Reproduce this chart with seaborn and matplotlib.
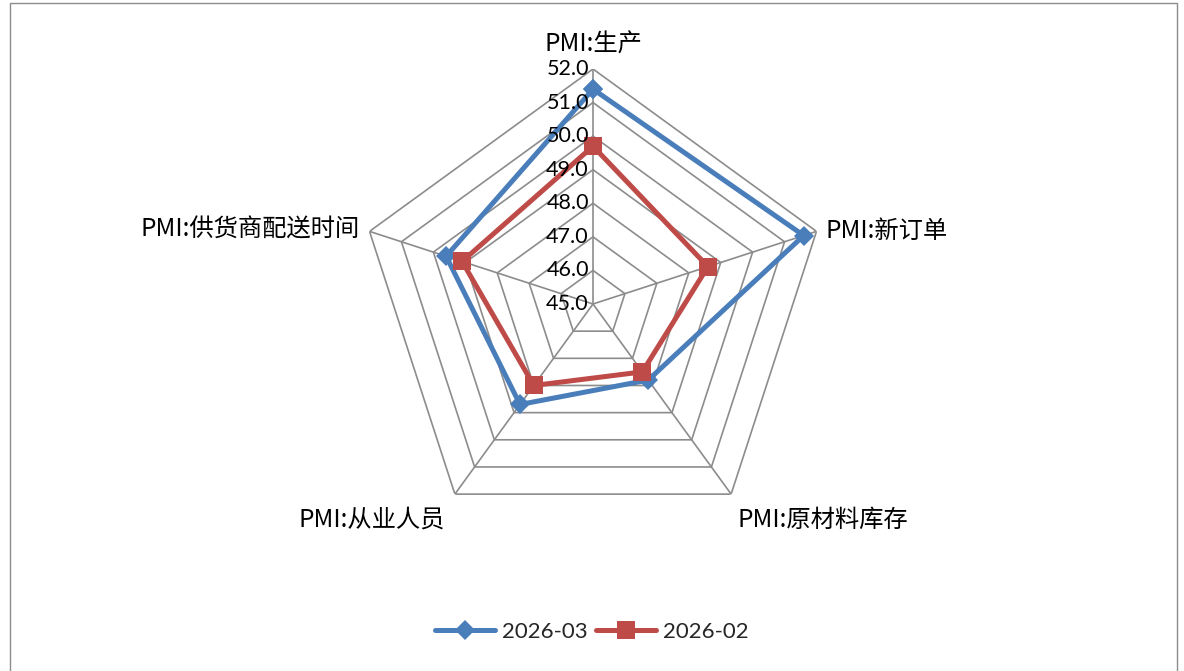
import numpy as np
import pandas as pd
import matplotlib
matplotlib.use("Agg")
import matplotlib.pyplot as plt
import seaborn as sns
from matplotlib.patches import Rectangle
from matplotlib.lines import Line2D

categories = ["PMI:生产", "PMI:新订单", "PMI:原材料库存", "PMI:从业人员", "PMI:供货商配送时间"]
series_names = ["2026-03", "2026-02"]
values_2026_03 = [51.4, 51.6, 47.8, 48.7, 49.6]
values_2026_02 = [49.7, 48.6, 47.5, 48.0, 49.1]
ring_values = [45.0, 46.0, 47.0, 48.0, 49.0, 50.0, 51.0, 52.0]

sns.set_theme(style="white")
plt.rcParams['font.family'] = ['Noto Sans CJK SC', 'DejaVu Sans']

W, H = 1184, 671
fig = plt.figure(figsize=(W / 100, H / 100), dpi=100)
fig.patch.set_facecolor("white")

cx, cy, R = 593, 304, 235
ax = fig.add_axes([(cx - R) / W, (H - cy - R) / H, 2 * R / W, 2 * R / H], projection="polar")
ax.set_theta_offset(np.pi / 2)
ax.set_theta_direction(-1)
ax.set_ylim(ring_values[0], ring_values[-1])
ax.grid(False)
ax.spines["polar"].set_visible(False)
ax.set_xticks([])
ax.set_yticks([])
ax.set_facecolor("none")

n = len(categories)
angles = np.arange(n) * 2 * np.pi / n
closed = np.append(angles, angles[0])

grid_col = "#8c8c8c"
for rv in ring_values[1:]:
    ax.plot(closed, [rv] * (n + 1), color=grid_col, lw=1.2, zorder=1)
for a in angles:
    ax.plot([a, a], [ring_values[0], ring_values[-1]], color=grid_col, lw=1.2, zorder=1)

# radial labels
for rv in ring_values:
    ax.annotate(f"{rv:.1f}", xy=(0, rv), xytext=(-3, 0), textcoords="offset points",
                ha="right", va="center", fontsize=15.5, family=["Lato", "DejaVu Sans"],
                color="#000000", zorder=5)

colors = ["#4A7EBB", "#BE4B48"]
markers = ["D", "s"]
msizes = [10, 12.5]
rows = []
for name, vals in zip(series_names, [values_2026_03, values_2026_02]):
    for a, v in zip(closed, vals + [vals[0]]):
        rows.append({"theta": a, "value": v, "series": name})
df = pd.DataFrame(rows)

for i, name in enumerate(series_names):
    sub = df[df["series"] == name]
    sns.lineplot(data=sub, x="theta", y="value", sort=False, ax=ax, color=colors[i],
                 lw=3.6, marker=markers[i], markersize=msizes[i], markeredgewidth=0,
                 estimator=None, legend=False, zorder=3 + i)
ax.set_xlabel("")
ax.set_ylabel("")
ax.set_ylim(ring_values[0], ring_values[-1])

# category labels
lab_kw = dict(fontsize=17.5, color="#000000")
fig.text(593 / W, 1 - 45 / H, categories[0], ha="center", va="center", **lab_kw)
fig.text(825 / W, 1 - 231 / H, categories[1], ha="left", va="center", **lab_kw)
fig.text(737 / W, 1 - 520 / H, categories[2], ha="left", va="center", **lab_kw)
fig.text(445 / W, 1 - 520 / H, categories[3], ha="right", va="center", **lab_kw)
fig.text(360 / W, 1 - 230 / H, categories[4], ha="right", va="center", **lab_kw)

handles = [Line2D([], [], color=colors[i], lw=3.6, marker=markers[i], markersize=msizes[i],
                  markeredgewidth=0) for i in range(2)]
fig.legend(handles, series_names, loc="center", bbox_to_anchor=(592 / W, 1 - 632 / H),
           ncol=2, frameon=False, prop={"family": ["Lato", "DejaVu Sans"], "size": 16},
           handlelength=2.7, columnspacing=0.4, handletextpad=0.3)

fig.patches.append(Rectangle((10 / W, -0.05), 1167 / W, 1.05 - 3 / H, transform=fig.transFigure,
                             fill=False, edgecolor="#8c8c8c", lw=1.0))

fig.savefig("out.png", dpi=100)
